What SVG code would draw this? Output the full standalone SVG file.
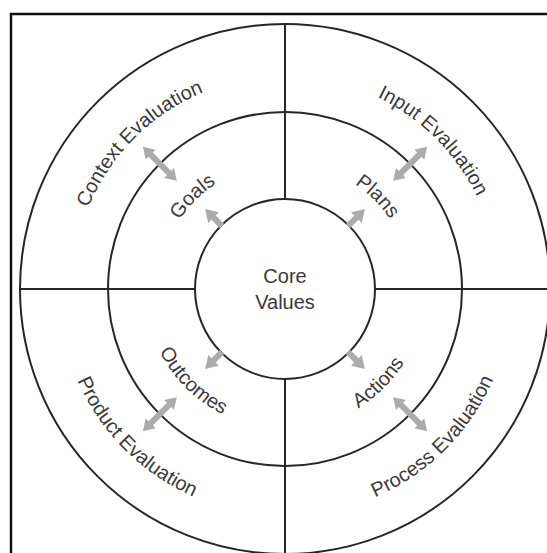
<svg xmlns="http://www.w3.org/2000/svg" xmlns:xlink="http://www.w3.org/1999/xlink" width="547" height="553" viewBox="0 0 547 553">
<style>
  .ring { fill: none; stroke: #262626; stroke-width: 2; }
  .frame { fill: none; stroke: #111; stroke-width: 2.5; }
  .lbl { font-family: "Liberation Sans", Arial, sans-serif; font-size: 20px; fill: #3a3a3a; }
  .arr { fill: #ababab; stroke: none; }
</style>
<defs>
  <path id="pUL1" d="M159.48,278.02 A126,126 0 0 1 274.02,163.48"/>
  <path id="pUR1" d="M295.98,163.48 A126,126 0 0 1 410.52,278.02"/>
  <path id="pUL2" d="M72.81,270.43 A213,213 0 0 1 266.43,76.81"/>
  <path id="pUR2" d="M303.57,76.81 A213,213 0 0 1 497.19,270.43"/>
  <path id="pLR1" d="M297.20,428.47 A140,140 0 0 0 424.47,301.20"/>
  <path id="pLL1" d="M145.53,301.20 A140,140 0 0 0 272.80,428.47"/>
  <path id="pLR2" d="M304.79,515.14 A227,227 0 0 0 511.14,308.79"/>
  <path id="pLL2" d="M58.86,308.79 A227,227 0 0 0 265.21,515.14"/>
  <polygon id="dbl" points="-24,0 -13,-7 -13,-3 13,-3 13,-7 24,0 13,7 13,3 -13,3 -13,7"/>
  <polygon id="sgl" points="113,0 101,-7.5 101,-3 89,-3 89,3 101,3 101,7.5"/>
</defs>
<rect class="frame" x="11" y="14" width="600" height="600"/>
<g id="structure">
  <circle class="ring" cx="285" cy="289" r="265"/>
  <circle class="ring" cx="285" cy="289" r="177"/>
  <line class="ring" x1="285" y1="24" x2="285" y2="199"/>
  <line class="ring" x1="285" y1="379" x2="285" y2="560"/>
  <line class="ring" x1="20" y1="289" x2="195" y2="289"/>
  <line class="ring" x1="375" y1="289" x2="560" y2="289"/>
</g>
<g id="core">
  <circle class="ring" cx="285" cy="289" r="90" fill="#fff"/>
  <text class="lbl" x="285" y="283" text-anchor="middle">Core</text>
  <text class="lbl" x="285" y="309" text-anchor="middle">Values</text>
</g>
<g id="goals"><text class="lbl"><textPath xlink:href="#pUL1" startOffset="50%" text-anchor="middle">Goals</textPath></text></g>
<g id="plans"><text class="lbl"><textPath xlink:href="#pUR1" startOffset="50%" text-anchor="middle">Plans</textPath></text></g>
<g id="actions"><text class="lbl"><textPath xlink:href="#pLR1" startOffset="50%" text-anchor="middle">Actions</textPath></text></g>
<g id="outcomes"><text class="lbl"><textPath xlink:href="#pLL1" startOffset="50%" text-anchor="middle">Outcomes</textPath></text></g>
<g id="context-evaluation"><text class="lbl"><textPath xlink:href="#pUL2" startOffset="50%" text-anchor="middle">Context Evaluation</textPath></text></g>
<g id="input-evaluation"><text class="lbl"><textPath xlink:href="#pUR2" startOffset="50%" text-anchor="middle">Input Evaluation</textPath></text></g>
<g id="process-evaluation"><text class="lbl"><textPath xlink:href="#pLR2" startOffset="50%" text-anchor="middle">Process Evaluation</textPath></text></g>
<g id="product-evaluation"><text class="lbl"><textPath xlink:href="#pLL2" startOffset="50%" text-anchor="middle">Product Evaluation</textPath></text></g>
<g id="connectors">
  <use class="arr" xlink:href="#sgl" transform="translate(285,289) rotate(-135)"/>
  <use class="arr" xlink:href="#sgl" transform="translate(285,289) rotate(-45)"/>
  <use class="arr" xlink:href="#sgl" transform="translate(285,289) rotate(45)"/>
  <use class="arr" xlink:href="#sgl" transform="translate(285,289) rotate(135)"/>
  <use class="arr" xlink:href="#dbl" transform="translate(285,289) rotate(-135) translate(177,0)"/>
  <use class="arr" xlink:href="#dbl" transform="translate(285,289) rotate(-45) translate(177,0)"/>
  <use class="arr" xlink:href="#dbl" transform="translate(285,289) rotate(45) translate(177,0)"/>
  <use class="arr" xlink:href="#dbl" transform="translate(285,289) rotate(135) translate(177,0)"/>
</g>
</svg>
